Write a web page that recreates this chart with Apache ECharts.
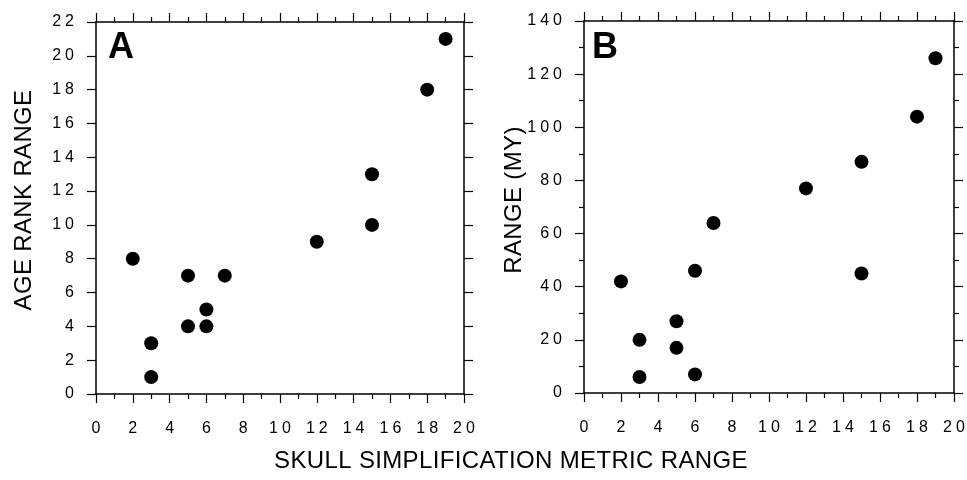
<!DOCTYPE html>
<html>
<head>
<meta charset="utf-8">
<script src="https://cdn.jsdelivr.net/npm/echarts@6/dist/echarts.min.js"></script>
<style>
html,body{margin:0;padding:0;background:#fff;}
#chart{width:967px;height:480px;}
</style>
</head>
<body>
<div id="chart"></div>
<script>
// Data
const skullMetricRange = [2, 3, 3, 5, 5, 6, 6, 7, 12, 15, 15, 18, 19];
const ageRankRange     = [8, 3, 1, 7, 4, 5, 4, 7, 9, 13, 10, 18, 21];
const skullMetricRangeB = [2, 3, 3, 5, 5, 6, 6, 7, 12, 15, 15, 18, 19];
const rangeMY          = [42, 20, 6, 27, 17, 46, 7, 64, 77, 87, 45, 104, 126];
const panelLabels = ['A', 'B'];
const xTitle = 'SKULL SIMPLIFICATION METRIC RANGE';
const yTitles = ['AGE RANK RANGE', 'RANGE (MY)'];

// Wide letter spacing of the printed figure's labels (presentation only)
(function () {
  const proto = window.CanvasRenderingContext2D && CanvasRenderingContext2D.prototype;
  if (!proto || !('letterSpacing' in proto)) return;
  const d = Object.getOwnPropertyDescriptor(proto, 'font');
  if (!d || !d.set) return;
  Object.defineProperty(proto, 'font', {
    configurable: true, enumerable: d.enumerable,
    get: function () { return d.get.call(this); },
    set: function (v) {
      d.set.call(this, v);
      let ls = '0px';
      if (/(^|\s)16px/.test(v)) ls = '4px';
      else if (/(^|\s)24px/.test(v) && !/bold/.test(v)) ls = '0.35px';
      this.letterSpacing = ls;
    }
  });
})();

const FONT = '"Liberation Sans", Arial, Helvetica, sans-serif';
const chart = echarts.init(document.getElementById('chart'), null, {renderer: 'canvas'});

const lineStyle = {color: '#000', width: 1.5};
function xAx(grid, pos, labels) {
  return {
    type: 'value', gridIndex: grid, position: pos, min: 0, max: 20, interval: 2,
    axisLine: {show: true, onZero: false, lineStyle},
    axisTick: {show: true, length: 9, lineStyle: {color: '#000', width: 1.2}},
    minorTick: {show: true, splitNumber: 2, length: 5, lineStyle: {color: '#000', width: 1.2}},
    splitLine: {show: false}, minorSplitLine: {show: false},
    axisLabel: {show: labels, color: '#000', fontFamily: FONT, fontSize: 16, margin: 25,
                padding: [0, 0, 0, 4]}
  };
}
function yAx(grid, pos, labels, max, interval, minor) {
  return {
    type: 'value', gridIndex: grid, position: pos, min: 0, max: max, interval: interval,
    axisLine: {show: true, onZero: false, lineStyle},
    axisTick: {show: true, length: 9, lineStyle: {color: '#000', width: 1.2}},
    minorTick: {show: minor, splitNumber: 2, length: 5, lineStyle: {color: '#000', width: 1.2}},
    splitLine: {show: false}, minorSplitLine: {show: false},
    axisLabel: {show: labels, color: '#000', fontFamily: FONT, fontSize: 16, margin: 18}
  };
}

const option = {
  backgroundColor: '#fff',
  animation: false,
  grid: [
    {left: 96, width: 368, top: 22, height: 372, containLabel: false, outerBoundsMode: 'none'},
    {left: 584, width: 370, top: 21, height: 372, containLabel: false, outerBoundsMode: 'none'}
  ],
  xAxis: [
    xAx(0, 'bottom', true), xAx(0, 'top', false),
    xAx(1, 'bottom', true), xAx(1, 'top', false)
  ],
  yAxis: [
    yAx(0, 'left', true, 22, 2, false), yAx(0, 'right', false, 22, 2, false),
    yAx(1, 'left', true, 140, 20, true), yAx(1, 'right', false, 140, 20, true)
  ],
  series: [
    {type: 'scatter', xAxisIndex: 0, yAxisIndex: 0, symbol: 'circle', symbolSize: 14,
     itemStyle: {color: '#000', opacity: 1},
     data: skullMetricRange.map((x, i) => [x, ageRankRange[i]])},
    {type: 'scatter', xAxisIndex: 2, yAxisIndex: 2, symbol: 'circle', symbolSize: 14,
     itemStyle: {color: '#000', opacity: 1},
     data: skullMetricRangeB.map((x, i) => [x, rangeMY[i]])}
  ],
  graphic: [
    {type: 'text', left: 108, top: 30, style: {text: panelLabels[0], font: 'bold 36px ' + FONT, fill: '#000'}},
    {type: 'text', left: 592, top: 30, style: {text: panelLabels[1], font: 'bold 36px ' + FONT, fill: '#000'}},
    {type: 'text', x: 511, y: 461, style: {text: xTitle, font: '24px ' + FONT, fill: '#000', textAlign: 'center', textVerticalAlign: 'middle'}},
    {type: 'text', x: 24, y: 200, rotation: Math.PI / 2,
     style: {text: yTitles[0], font: '24px ' + FONT, fill: '#000', textAlign: 'center', textVerticalAlign: 'middle'}},
    {type: 'text', x: 514, y: 200, rotation: Math.PI / 2,
     style: {text: yTitles[1], font: '24px ' + FONT, fill: '#000', textAlign: 'center', textVerticalAlign: 'middle'}}
  ]
};
chart.setOption(option);
</script>
</body>
</html>
